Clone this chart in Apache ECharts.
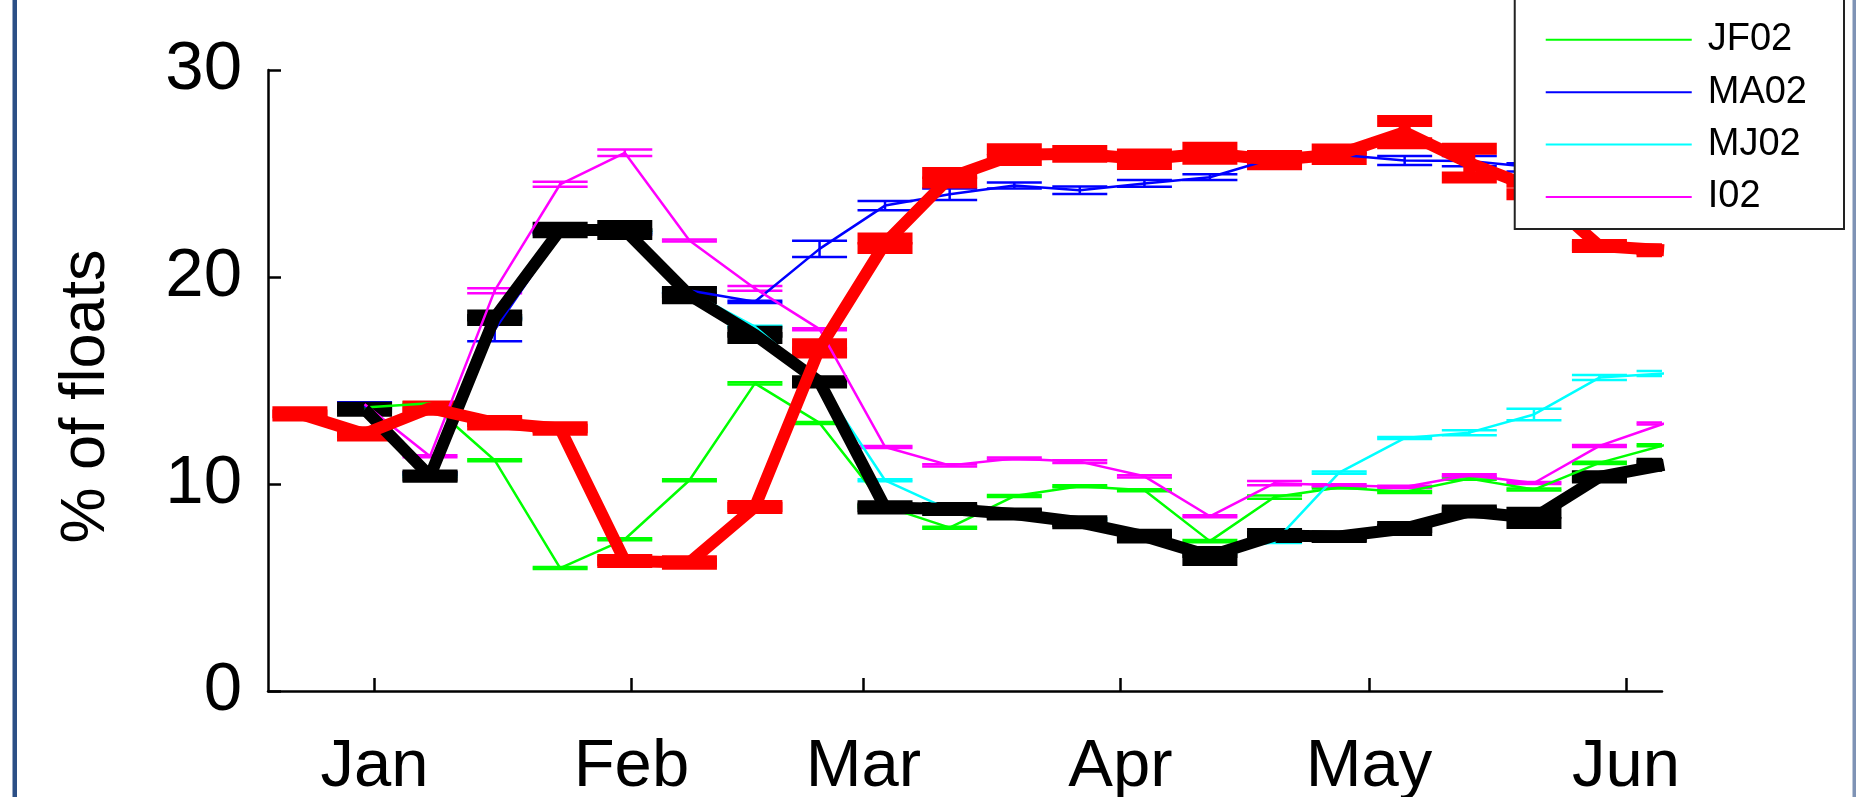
<!DOCTYPE html>
<html><head><meta charset="utf-8">
<script src="https://cdn.jsdelivr.net/npm/echarts@6/dist/echarts.min.js"></script>
<style>html,body{margin:0;padding:0;background:#fff}#c{width:1856px;height:797px}</style>
</head><body><div id="c"></div>
<script>
// x positions of the samples, in day of year (Jan 1 = 1)
const dayOfYear = [-8.0, -0.2, 7.7, 15.5, 23.4, 31.2, 39.0, 46.9, 54.7, 62.6, 70.4, 78.2, 86.1, 93.9, 101.8, 109.6, 117.4, 125.3, 133.1, 140.9, 148.8, 156.6];
const monthTickDays = [1, 32, 60, 91, 121, 152];
const monthLabels = ['Jan', 'Feb', 'Mar', 'Apr', 'May', 'Jun'];
const yTicks = [0, 10, 20, 30];

const red      = [13.39, 12.42, 13.67, 12.96, 12.68, 6.28, 6.21, 8.89, 16.55, 21.63, 24.8, 25.91, 25.95, 25.69, 25.98, 25.65, 25.93, 27.0, 25.5, 24.3, 21.5, 21.29];
const redErr   = [0.08, 0.08, 0.08, 0.08, 0.06, 0.05, 0.06, 0.05, 0.2, 0.23, 0.23, 0.26, 0.14, 0.23, 0.27, 0.2, 0.23, 0.54, 0.69, 0.3, 0.05, 0.05];
const black    = [null, 13.61, 10.38, 18.03, 22.27, 22.27, 19.12, 17.2, 14.93, 8.87, 8.79, 8.55, 8.15, 7.48, 6.52, 7.51, 7.46, 7.85, 8.67, 8.36, 10.34, 10.93];
const blackErr = [null, 0.07, 0.03, 0.11, 0.11, 0.19, 0.15, 0.15, 0.03, 0.05, 0.05, 0.02, 0.05, 0.07, 0.19, 0.07, 0.02, 0.07, 0.05, 0.25, 0.03, 0.05];
const jf02     = [null, 13.7, 13.9, 11.15, 5.94, 7.33, 10.18, 14.86, 12.95, 8.92, 7.89, 9.42, 9.89, 9.7, 7.24, 9.37, 9.83, 9.61, 10.26, 9.73, 11.02, 11.87];
const jf02Err  = [null, 0.05, 0.05, 0.05, 0.05, 0.05, 0.05, 0.05, 0.05, 0.05, 0.05, 0.05, 0.05, 0.05, 0.05, 0.08, 0.05, 0.05, 0.05, 0.05, 0.05, 0.05];
const ma02     = [null, 13.8, 10.5, 17.45, 22.1, 22.1, 19.35, 18.8, 21.36, 23.45, 24.0, 24.42, 24.19, 24.52, 24.82, 25.75, 25.9, 25.63, 25.6, 25.3, 25.0, 24.8];
const ma02Err  = [null, 0.15, 0.05, 0.55, 0.05, 0.05, 0.12, 0.05, 0.39, 0.22, 0.28, 0.14, 0.18, 0.16, 0.14, 0.3, 0.1, 0.22, 0.25, 0.2, 0.2, 0.2];
const mj02     = [null, 13.6, 10.4, 18.0, 22.2, 22.2, 19.3, 17.6, 14.95, 10.18, 8.75, 8.6, 8.3, 7.65, 6.71, 7.2, 10.55, 12.22, 12.48, 13.36, 15.14, 15.34];
const mj02Err  = [null, 0.05, 0.05, 0.05, 0.05, 0.05, 0.05, 0.05, 0.05, 0.05, 0.05, 0.05, 0.05, 0.05, 0.05, 0.05, 0.05, 0.05, 0.12, 0.28, 0.12, 0.12];
const i02      = [null, 13.85, 11.34, 19.34, 24.48, 26.0, 21.76, 19.45, 17.48, 11.79, 10.9, 11.23, 11.08, 10.37, 8.44, 10.04, 9.94, 9.86, 10.42, 10.05, 11.84, 12.92];
const i02Err   = [null, 0.05, 0.05, 0.12, 0.12, 0.16, 0.05, 0.12, 0.05, 0.05, 0.05, 0.05, 0.07, 0.05, 0.05, 0.1, 0.05, 0.05, 0.05, 0.05, 0.05, 0.05];

const FONT = "'Liberation Sans', Arial, Helvetica, sans-serif";

function pts(vals) {
  const out = [];
  vals.forEach((v, i) => { if (v != null) out.push([dayOfYear[i], v]); });
  return out;
}
function lineSeries(name, vals, color, width) {
  return {
    type: 'line', name: name, data: pts(vals), symbol: 'none', showSymbol: false,
    lineStyle: { color: color, width: width, cap: 'butt', join: 'bevel' },
    itemStyle: { color: color }, color: color, silent: true, animation: false, clip: true
  };
}
function errSeries(name, vals, errs, color, width) {
  const data = [];
  vals.forEach((v, i) => { if (v != null) data.push([dayOfYear[i], v, errs[i]]); });
  return {
    type: 'custom', name: name + ' err', data: data, clip: true, silent: true, animation: false,
    encode: { x: 0, y: 1 },
    renderItem: function (params, api) {
      const x = api.value(0), y = api.value(1), e = api.value(2);
      const hi = api.coord([x, y + e]), lo = api.coord([x, y - e]);
      const hw = 27.5;
      const st = { stroke: color, lineWidth: width, fill: null, lineCap: 'butt' };
      return { type: 'group', children: [
        { type: 'line', shape: { x1: hi[0], y1: hi[1], x2: lo[0], y2: lo[1] }, style: st },
        { type: 'line', shape: { x1: hi[0] - hw, y1: hi[1], x2: hi[0] + hw, y2: hi[1] }, style: st },
        { type: 'line', shape: { x1: lo[0] - hw, y1: lo[1], x2: lo[0] + hw, y2: lo[1] }, style: st }
      ] };
    }
  };
}

const chart = echarts.init(document.getElementById('c'), null, { renderer: 'canvas' });
const thin = 2.5, thick = 12;
chart.setOption({
  backgroundColor: '#fff',
  animation: false,
  grid: { left: 268, right: 194, top: 70, bottom: 106, containLabel: false, outerBoundsMode: 'none' },
  xAxis: {
    type: 'value', min: -11.85, max: 156.35,
    axisLine: { show: true, onZero: false, lineStyle: { color: '#000', width: 2.5 } },
    axisTick: { show: true, inside: true, length: 13, customValues: monthTickDays, lineStyle: { color: '#000', width: 2.5 } },
    axisLabel: { customValues: monthTickDays, formatter: v => monthLabels[monthTickDays.indexOf(v)] || '', fontSize: 67, color: '#000', fontFamily: FONT, margin: 43 },
    splitLine: { show: false }
  },
  yAxis: {
    type: 'value', min: yTicks[0], max: yTicks[yTicks.length - 1], interval: 10,
    axisLine: { show: true, onZero: false, lineStyle: { color: '#000', width: 2.5 } },
    axisTick: { show: true, inside: true, length: 13, lineStyle: { color: '#000', width: 2.5 } },
    axisLabel: { fontSize: 69, color: '#000', fontFamily: FONT, margin: 26 },
    splitLine: { show: false },
    name: '% of floats', nameLocation: 'middle', nameGap: 150, nameRotate: 90,
    nameTextStyle: { fontSize: 63, color: '#000', fontFamily: FONT, padding: [0, 32, 0, 0] }
  },
  legend: {
    orient: 'vertical', right: 12, top: -97,
    data: ['2001', '2002', 'JF02', 'MA02', 'MJ02', 'I02'],
    backgroundColor: '#fff', borderColor: '#222', borderWidth: 2,
    padding: [12, 37, 12, 30], itemGap: 12.4, itemWidth: 146, itemHeight: 1,
    textStyle: { fontSize: 38, lineHeight: 40, color: '#000', fontFamily: FONT, padding: [0, 0, 0, 11] },
    selectedMode: false, z: 10
  },
  graphic: [
    { type: 'rect', shape: { x: 12.5, y: 0, width: 4.5, height: 797 }, style: { fill: '#2b4f86' }, z: 100 },
    { type: 'rect', shape: { x: 1852.5, y: 0, width: 3.5, height: 797 }, style: { fill: '#7f93b5' }, z: 100 }
  ],
  series: [
    lineSeries('JF02', jf02, '#00ff00', thin), errSeries('JF02', jf02, jf02Err, '#00ff00', thin),
    lineSeries('MA02', ma02, '#0000ff', thin), errSeries('MA02', ma02, ma02Err, '#0000ff', thin),
    lineSeries('MJ02', mj02, '#00ffff', thin), errSeries('MJ02', mj02, mj02Err, '#00ffff', thin),
    lineSeries('I02', i02, '#ff00ff', thin), errSeries('I02', i02, i02Err, '#ff00ff', thin),
    lineSeries('2002', black, '#000000', thick), errSeries('2002', black, blackErr, '#000000', thick),
    lineSeries('2001', red, '#ff0000', thick), errSeries('2001', red, redErr, '#ff0000', thick)
  ]
});
</script>
</body></html>
